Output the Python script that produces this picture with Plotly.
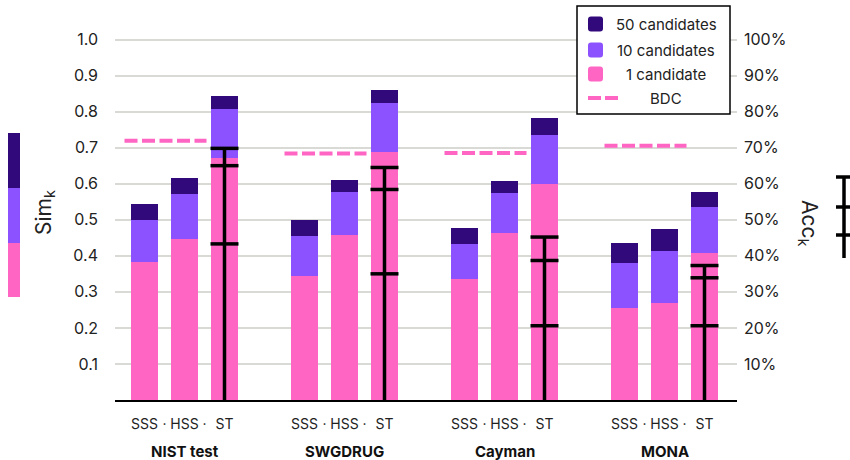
import plotly.graph_objects as go

# ---------------- data ----------------
datasets = ["NIST test", "SWGDRUG", "Cayman", "MONA"]
methods = ["SSS", "HSS", "ST"]
# cumulative similarity tops (Sim_1, Sim_10, Sim_50), ordered dataset x method
sim1 = [0.384, 0.447, 0.670, 0.343, 0.458, 0.687, 0.337, 0.464, 0.600, 0.255, 0.270, 0.409]
sim10 = [0.499, 0.571, 0.808, 0.456, 0.578, 0.823, 0.434, 0.574, 0.736, 0.379, 0.414, 0.535]
sim50 = [0.545, 0.616, 0.844, 0.499, 0.609, 0.861, 0.476, 0.608, 0.783, 0.436, 0.473, 0.576]
# BDC baseline per dataset
bdc = [0.719, 0.684, 0.685, 0.705]
# ST accuracy (Acc_1, Acc_10, Acc_50) per dataset
acc1 = [0.433, 0.350, 0.206, 0.206]
acc10 = [0.650, 0.584, 0.387, 0.339]
acc50 = [0.698, 0.645, 0.452, 0.373]
y_ticks = [0.1, 0.2, 0.3, 0.4, 0.5, 0.6, 0.7, 0.8, 0.9, 1.0]
y_ticktext = ["0.1", "0.2", "0.3", "0.4", "0.5", "0.6", "0.7", "0.8", "0.9", "1.0"]
y2_ticktext = ["10%", "20%", "30%", "40%", "50%", "60%", "70%", "80%", "90%", "100%"]
legend_labels = ["50 candidates", "10 candidates", "1 candidate", "BDC"]

# ---------------- style ----------------
PINK = "#FF66C4"
PURPLE = "#8C52FF"
DARK = "#32097A"
TXT = "#222222"
FONT = "Inter"
W, H = 850, 460
ML, MR, MT, MB = 115, 113, 22, 60
PW, PH = W - ML - MR, H - MT - MB
GROUP_STEP = 4
BAR_W = 0.675

def px_x(px):
    return (px - ML) / PW

def px_y(py):
    return (H - MB - py) / PH

xs = [g * GROUP_STEP + m for g in range(len(datasets)) for m in range(len(methods))]
st_x = [g * GROUP_STEP + 2 for g in range(len(datasets))]

fig = go.Figure()
for vals, col, name in [(sim50, DARK, "50"), (sim10, PURPLE, "10"), (sim1, PINK, "1")]:
    fig.add_trace(go.Bar(x=xs, y=vals, width=BAR_W, marker=dict(color=col, line=dict(width=0)),
                         name=name, showlegend=False, hoverinfo="y"))

# BDC dashed lines
for g, v in enumerate(bdc):
    fig.add_trace(go.Scatter(x=[g * GROUP_STEP - 0.5, g * GROUP_STEP + 1.55], y=[v, v], mode="lines",
                             line=dict(color=PINK, width=4, dash="13px,4.5px"), showlegend=False,
                             hoverinfo="skip"))

# Accuracy markers on ST bars (right axis)
for i, x in enumerate(st_x):
    fig.add_trace(go.Scatter(x=[x, x], y=[0, acc50[i]], mode="lines", yaxis="y2",
                             line=dict(color="black", width=3.5), showlegend=False, hoverinfo="skip"))
    fig.add_trace(go.Scatter(x=[x, x, x], y=[acc1[i], acc10[i], acc50[i]], mode="markers", yaxis="y2",
                             marker=dict(symbol="line-ew", size=20, line=dict(color="black", width=3.5)),
                             showlegend=False, hoverinfo="y"))

yr = [0, (H - MB - MT) / 360.5]
xr = [(ML - 144.5) / 40, (ML + PW - 144.5) / 40]

tickvals, ticktext = [], []
for g in range(len(datasets)):
    for m, meth in enumerate(methods):
        tickvals.append(g * GROUP_STEP + m)
        ticktext.append(meth)
        if m < len(methods) - 1:
            tickvals.append(g * GROUP_STEP + m + 0.5)
            ticktext.append("·")

shapes = []
annotations = []

# group labels
for g, name in enumerate(datasets):
    annotations.append(dict(x=g * GROUP_STEP + 1, y=0, xref="x", yref="paper", text="<b>%s</b>" % name,
                            showarrow=False, yanchor="middle", xanchor="center", yshift=-51,
                            font=dict(size=15, color="#111", family=FONT)))

# left Sim_k colour bar
for top, bot, col in [(133, 188, DARK), (188, 243, PURPLE), (243, 297, PINK)]:
    shapes.append(dict(type="rect", xref="paper", yref="paper", x0=px_x(8), x1=px_x(20),
                       y0=px_y(bot), y1=px_y(top), fillcolor=col, line=dict(width=0), layer="above"))
annotations.append(dict(x=px_x(45), y=px_y(213), xref="paper", yref="paper", text="Sim<sub>k</sub>",
                        textangle=-90, showarrow=False, xanchor="center", yanchor="middle",
                        font=dict(size=21, color=TXT, family=FONT)))

# right Acc_k marker
annotations.append(dict(x=px_x(808), y=px_y(223), xref="paper", yref="paper", text="Acc<sub>k</sub>",
                        textangle=90, showarrow=False, xanchor="center", yanchor="middle",
                        font=dict(size=21, color=TXT, family=FONT)))
shapes.append(dict(type="line", xref="paper", yref="paper", x0=px_x(844), x1=px_x(844),
                   y0=px_y(258), y1=px_y(177), line=dict(color="black", width=3.5)))
for cy in [177, 207, 235]:
    shapes.append(dict(type="line", xref="paper", yref="paper", x0=px_x(836), x1=px_x(852),
                       y0=px_y(cy), y1=px_y(cy), line=dict(color="black", width=3.5)))

# custom legend box
shapes.append(dict(type="rect", xref="paper", yref="paper", x0=px_x(577), x1=px_x(730),
                   y0=px_y(114), y1=px_y(6), fillcolor="white", line=dict(color="black", width=1.5),
                   layer="above"))

def rounded_rect(x0, y0, x1, y1, r):
    # pixel coords -> paper path with rounded corners
    def P(x, y):
        return "%f,%f" % (px_x(x), px_y(y))
    return ("M " + P(x0 + r, y0) + " L " + P(x1 - r, y0) + " Q " + P(x1, y0) + " " + P(x1, y0 + r) +
            " L " + P(x1, y1 - r) + " Q " + P(x1, y1) + " " + P(x1 - r, y1) +
            " L " + P(x0 + r, y1) + " Q " + P(x0, y1) + " " + P(x0, y1 - r) +
            " L " + P(x0, y0 + r) + " Q " + P(x0, y0) + " " + P(x0 + r, y0) + " Z")

rows = [24, 50, 74, 98]
for cy, col in zip(rows[:3], [DARK, PURPLE, PINK]):
    shapes.append(dict(type="path", xref="paper", yref="paper",
                       path=rounded_rect(588, cy - 7.5, 603, cy + 7.5, 3),
                       fillcolor=col, line=dict(width=0), layer="above"))
shapes.append(dict(type="line", xref="paper", yref="paper", x0=px_x(588), x1=px_x(618),
                   y0=px_y(rows[3]), y1=px_y(rows[3]), line=dict(color=PINK, width=4, dash="13px,4px"),
                   layer="above"))
for cy, lab in zip(rows, legend_labels):
    annotations.append(dict(x=px_x(666), y=px_y(cy), xref="paper", yref="paper", text=lab,
                            showarrow=False, xanchor="center", yanchor="middle",
                            font=dict(size=15, color=TXT, family=FONT)))

fig.update_layout(
    width=W, height=H,
    margin=dict(l=ML, r=MR, t=MT, b=MB),
    paper_bgcolor="white", plot_bgcolor="white",
    barmode="overlay", bargap=0,
    font=dict(family=FONT, color=TXT),
    xaxis=dict(range=xr, tickvals=tickvals, ticktext=ticktext, showgrid=False, zeroline=False,
               showline=True, linecolor="black", linewidth=1.5, ticks="",
               tickfont=dict(size=14, color=TXT), ticklabelstandoff=10, fixedrange=True),
    yaxis=dict(range=yr, tickvals=y_ticks, ticktext=y_ticktext, showgrid=True, gridcolor="#D9D9D5",
               gridwidth=2, zeroline=False, showline=False, ticks="",
               tickfont=dict(size=16, color=TXT), ticklabelstandoff=16),
    yaxis2=dict(range=yr, tickvals=y_ticks, ticktext=y2_ticktext, overlaying="y", side="right",
                showgrid=False, zeroline=False, showline=False, ticks="",
                tickfont=dict(size=16, color=TXT), ticklabelstandoff=6),
    shapes=shapes, annotations=annotations,
)

fig.write_html("out.html")
